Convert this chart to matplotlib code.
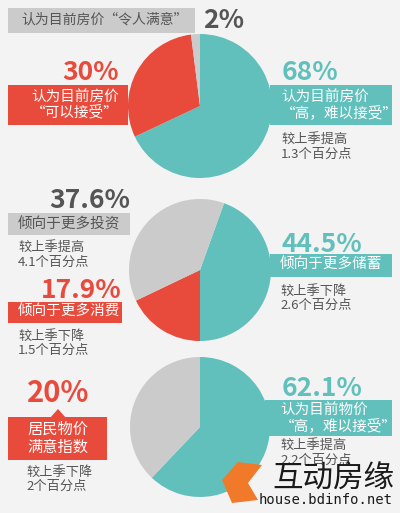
import matplotlib.pyplot as plt
from matplotlib.patches import Rectangle, Polygon

plt.rcParams['font.family'] = ['Noto Sans CJK SC', 'DejaVu Sans']

TEAL = '#62c0bc'
RED = '#e84a3c'
GRAY = '#cbcbcb'
DARK = '#555555'
BG = '#f3f3f3'

# pie 1: house price opinion
house_vals = [68, 30, 2]
# pie 2: spending tendency
spend_vals = [44.5, 17.9, 37.6]
# pie 3: price satisfaction
price_vals = [62.1, 37.9]

fig = plt.figure(figsize=(4, 5.13), dpi=100, facecolor=BG)
ax = fig.add_axes([0, 0, 1, 1])

def pie(vals, colors, cy, r, start):
    # y axis is flipped, so mirror the angles to keep clockwise order on screen
    ax.pie(vals, colors=colors, center=(200, cy), radius=r, startangle=-start,
           counterclock=True, wedgeprops=dict(linewidth=0, zorder=2), frame=True)

def band(x0, y0, x1, y1, c):
    ax.add_patch(Rectangle((x0, y0), x1 - x0, y1 - y0, color=c, zorder=1, lw=0))

def txt(x, y, s, c, size, ha='left', bold=False, ls=1.1):
    ax.text(x, y, s, color=c, fontsize=size, ha=ha, va='center',
            fontweight='bold' if bold else 'normal', linespacing=ls, zorder=5)

# ---- pie 1
band(8, 8, 195, 33, GRAY)
pie(house_vals, [TEAL, RED, GRAY], 106, 72, 90)
txt(188, 20, '认为目前房价“令人满意”', DARK, 10, ha='right')
txt(203, 20, '2%', DARK, 19, bold=True)
txt(119, 72, '30%', RED, 19, ha='right', bold=True)
band(8, 85, 128, 125, RED)
txt(75, 105, '认为目前房价\n“可以接受”', 'white', 10.5, ha='center')
txt(282, 72, '68%', TEAL, 19, bold=True)
band(270, 85, 392, 125, TEAL)
txt(281, 105, '认为目前房价\n“高，难以接受”', 'white', 10.5)
txt(281, 147, '较上季提高\n1.3个百分点', DARK, 9.5)

# ---- pie 2
pie(spend_vals, [TEAL, RED, GRAY], 270, 71, 360 * 44.5 / 100 - 90)
txt(130, 200, '37.6%', DARK, 19, ha='right', bold=True)
band(8, 213, 130, 235, GRAY)
txt(18, 224, '倾向于更多投资', DARK, 10.5)
txt(18, 255, '较上季提高\n4.1个百分点', DARK, 9.5)
txt(122, 290, '17.9%', RED, 19, ha='right', bold=True)
band(8, 302, 122, 323, RED)
txt(18, 312, '倾向于更多消费', 'white', 10.5)
txt(18, 343, '较上季下降\n1.5个百分点', DARK, 9.5)
txt(282, 244, '44.5%', TEAL, 19, bold=True)
band(270, 254, 392, 277, TEAL)
txt(280, 265, '倾向于更多储蓄', 'white', 10.5)
txt(280, 298, '较上季下降\n2.6个百分点', DARK, 9.5)

# ---- pie 3
pie(price_vals, [TEAL, GRAY], 427, 70, 90)
txt(58, 393, '20%', RED, 21, ha='center', bold=True)
ax.add_patch(Polygon([[50, 418], [58, 409], [66, 418]], color=RED, zorder=1, lw=0))
band(8, 417, 107, 460, RED)
txt(58, 438, '居民物价\n满意指数', 'white', 11, ha='center')
txt(26, 479, '较上季下降\n2个百分点', DARK, 9.5)
txt(282, 388, '62.1%', TEAL, 19, bold=True)
band(265, 400, 392, 436, TEAL)
txt(280, 418, '认为目前物价\n“高，难以接受”', 'white', 10.5)
txt(280, 453, '较上季提高\n2.2个百分点', DARK, 9.5)

# watermark
ax.add_patch(Polygon([[222, 480], [238, 462], [262, 465], [248, 483], [258, 500], [232, 503]],
                     color='#f07a2a', zorder=6, lw=0))
ax.text(272, 478, '互动房缘', color='#1a1a1a', fontsize=22, va='center', zorder=7)
ax.text(393, 500, 'house.bdinfo.net', color='#1a1a1a', fontsize=10, ha='right',
        va='center', family='DejaVu Sans Mono', zorder=7)

ax.set_xlim(0, 400)
ax.set_ylim(513, 0)
ax.set_aspect('equal')
ax.axis('off')
fig.savefig('out.png', dpi=100, facecolor=BG)
